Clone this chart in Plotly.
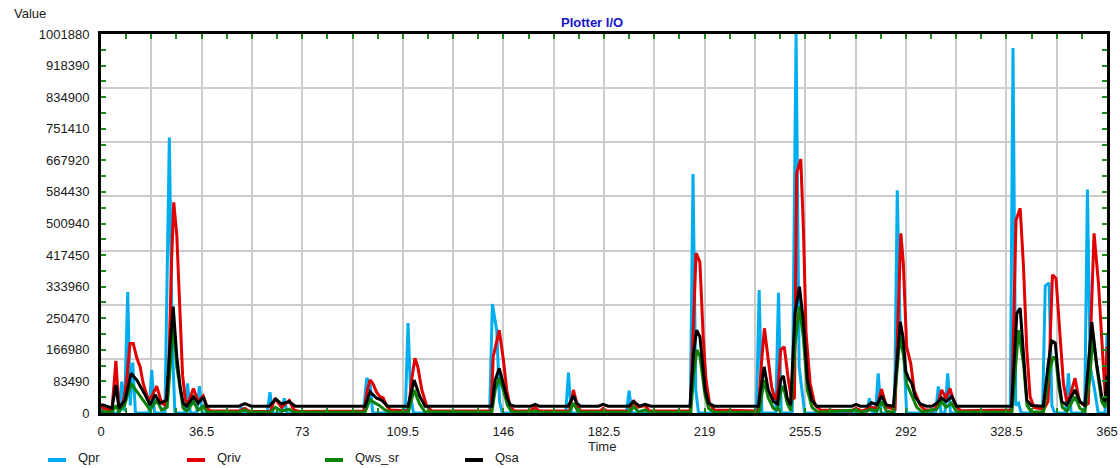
import plotly.graph_objects as go

# ---------------- data ----------------
qpr_t = [0, 1, 6.5, 7.5, 8.5, 9.7, 10.6, 11.5, 12.5, 17.4, 18.4, 19.4, 23.2, 24.8, 25.8, 26.8,
         30.4, 31.4, 32.4, 34.7, 35.7, 36.7, 50, 51, 52, 60.3, 61.3, 62.3, 65.5, 66.5, 67.5,
         95.2, 96.4, 97.6, 98.6, 110.4, 111.4, 112.4, 113.4, 141, 142, 143.6, 144.6, 145.6,
         168.6, 169.6, 170.6, 181.2, 182.2, 183.2, 190.6, 191.6, 192.6, 213.8, 214.8, 215.8, 216.8,
         237.8, 238.8, 239.8, 244.8, 245.8, 246.8, 250.8, 252.2, 253.3, 255.3,
         277.8, 278.8, 279.8, 281, 282, 283, 287.9, 288.9, 289.9, 291.3, 292.3,
         302.8, 303.8, 304.8, 306.2, 307.2, 308.2, 329.9, 330.9, 331.9, 332.9, 333.9,
         341.6, 342.6, 344, 345, 346, 350, 351, 352, 356.9, 357.9, 358.9, 360.3, 361.8,
         364.3, 365]
qpr_v = [15000, 0, 0, 83000, 5000, 320000, 20000, 133000, 0, 0, 114000, 0, 0, 728000, 200000, 0,
         0, 78000, 0, 0, 71000, 0, 0, 15000, 0, 0, 55000, 0, 0, 39000, 0,
         0, 92000, 80000, 0, 0, 238000, 40000, 0, 0, 288000, 217000, 30000, 0,
         0, 107000, 0, 0, 10000, 0, 0, 59000, 0, 0, 632000, 60000, 0,
         0, 325000, 0, 0, 318000, 0, 0, 1001880, 122000, 0,
         0, 39000, 0, 0, 105000, 0, 0, 589000, 230000, 160000, 0,
         0, 70000, 0, 0, 105000, 0, 0, 965000, 20000, 26000, 0,
         0, 336000, 344000, 20000, 0, 0, 105000, 0, 0, 591000, 122000, 70000, 0,
         0, 211000]

qriv_t = [0, 1, 3, 4, 5.4, 6.5, 7.5, 8.5, 9.5, 10.5, 11.7, 13, 14.2, 15.3, 17.2, 18.5, 20.2, 22,
          23.5, 24.6, 25.6, 26.4, 27.5, 28.6, 29.6, 30.6, 31.6, 33.5, 35.3, 37.1, 38.8, 40,
          50, 52.2, 54, 61.5, 63.1, 65.5, 68.3, 70, 72, 95.5, 96.6, 97.6, 98.5, 100, 101.2,
          102.4, 103.5, 105, 111.5, 112.7, 113.9, 115, 116.4, 118.2, 120, 141.5, 142.3, 144.5,
          146, 147.2, 148.4, 150, 155.5, 157.5, 159, 170, 171.4, 172.8, 174, 181, 182.2, 183.5,
          191.8, 193.2, 194.5, 197.4, 199, 213.8, 214.8, 215.9, 217.3, 218.5, 219.5, 220.8, 222.5,
          238.5, 239.6, 240.7, 242.1, 243.3, 244.6, 245.6, 246.6, 247.9, 249.4, 250.6, 251.6,
          252.4, 253.9, 254.9, 255.8, 257.3, 259, 261, 272, 274, 276, 279.6, 281.5, 283.2, 285,
          288.1, 290.2, 291.1, 292.3, 293.8, 295, 297.2, 299, 302, 303.5, 305, 306.6, 308, 310,
          312, 330.4, 332, 333.5, 334.7, 335.9, 337.1, 338.5, 342, 343.6, 345.2, 346.5, 348,
          349.2, 350.4, 351.6, 353.4, 355, 356.8, 358.2, 360.3, 361.9, 363.7, 364.4, 365]
qriv_v = [18000, 12000, 8000, 10000, 138000, 12000, 20000, 40000, 100000, 184000, 184000, 145000,
          122000, 78000, 34000, 45000, 71000, 26000,
          20000, 120000, 400000, 557000, 470000, 270000, 100000, 35000, 25000, 65000, 30000,
          45000, 10000, 5000,
          5000, 12000, 4000, 4000, 39000, 15000, 33000, 8000, 4000, 5000, 60000, 87000, 80000,
          55000, 43000,
          40000, 20000, 8000, 5000, 87000, 145000, 120000, 61000, 18000, 5000, 5000, 149000,
          219000,
          140000, 61000, 17000, 5000, 5000, 15000, 5000, 5000, 61000, 20000, 5000, 5000, 12000,
          5000,
          5000, 34000, 15000, 20000, 5000, 5000, 200000, 423000, 399000, 200000, 87000, 25000,
          8000,
          5000, 130000, 224000, 140000, 70000, 34000, 60000, 167000, 175000, 87000, 34000, 40000,
          633000, 671000, 476000, 211000, 78000, 21000, 8000, 5000, 12000, 5000, 15000, 12000,
          63000, 15000,
          10000, 475000, 396000, 175000, 131000, 61000, 21000, 8000, 8000, 20000, 61000, 39000,
          65000, 17000,
          6000, 8000, 510000, 541000, 387000, 167000, 43000, 15000, 10000, 30000, 365000, 356000,
          211000,
          78000, 30000, 45000, 92000, 30000, 20000, 25000, 475000, 343000, 122000, 45000, 175000]

qws_t = [0, 1, 4, 5.4, 6.5, 8.5, 10.9, 13.5, 16, 17.8, 20.2, 22, 24, 25.2, 26.3, 27.5, 28.7,
         29.8, 31.2, 33.5, 35.3, 37.1, 38.5, 50, 52.2, 54, 61.5, 63.3, 65.5, 68.3, 70, 95.8,
         97.6, 99, 101, 103, 105, 111.5, 113.6, 115.5, 117.5, 141.8, 143, 144.5, 146, 147.5,
         149, 156, 157.5, 159, 170, 171.4, 173, 174, 191.8, 193.2, 195, 197.4, 199, 214, 215,
         216.2, 217.3, 219.2, 220.5, 222.5, 238.8, 240.6, 242.1, 244, 245.4, 246.6, 247.6, 249,
         250.3, 251.8, 253.4, 254.8, 256.3, 258, 260, 274, 276, 279.6, 281.5, 283.2, 285,
         287.5, 289.9, 291.2, 292.3, 294.5, 296, 298, 303.2, 305, 306.6, 308.5, 310.5, 330.5,
         332.2, 332.9, 334.7, 336, 337.5, 342, 343.8, 345.5, 346.5, 347.5, 348.8, 350.5, 353.4,
         355.2, 357, 358.5, 360, 361.5, 363.1, 364.3, 365]
qws_v = [5000, 3000, 2000, 20000, 3000, 20000, 78000, 52000, 26000, 8000, 34000, 8000, 15000,
         130000, 237000, 122000, 61000,
         13000, 5000, 30000, 8000, 18000, 3000, 2000, 8000, 2000, 2000, 15000, 5000, 10000, 2000,
         2000,
         36000, 28000, 20000, 8000, 2000, 2000, 61000, 25000, 3000, 2000, 60000, 94000, 60000,
         20000,
         3000, 2000, 6000, 2000, 2000, 26000, 5000, 2000, 2000, 17000, 3000, 8000, 2000, 2000,
         100000,
         167000, 150000, 45000, 12000, 2000, 2000, 87000, 40000, 12000, 8000, 55000, 71000, 25000,
         6000, 180000, 281000, 200000, 60000, 15000, 2000, 8000, 2000, 10000, 5000, 30000, 5000,
         2000, 202000, 150000, 78000, 43000, 15000, 3000, 10000, 30000, 15000, 26000, 3000, 2000,
         150000, 219000, 130000, 20000, 3000, 2000, 100000, 149000, 140000, 70000, 15000, 5000,
         43000,
         12000, 5000, 80000, 202000, 110000, 30000, 15000, 53000]

qsa_t = [0, 0.7, 4, 5.4, 6.5, 8.7, 10.9, 13, 16, 17.8, 19.6, 21.4, 23.8, 25, 26.2, 27.5, 28.7,
         29.8, 31.1, 33.5, 35.3, 37.1, 38.3, 50, 52.2, 54.5, 61, 63.4, 65.5, 68.3, 70.5, 95.8,
         97.6, 100, 101.8, 104, 111.4, 113.6, 115.7, 117.6, 141.8, 143, 144.5, 146, 147.2,
         148.4, 150, 156, 157.5, 159, 169.5, 171.4, 172.6, 174, 180.5, 182.2, 184, 191.5, 193.2,
         195.5, 197.4, 199.5, 213.7, 215, 216.1, 217.3, 219.2, 220.4, 222.5, 238.5, 240.6,
         242.1, 244, 245.4, 246.6, 247.6, 249, 250.2, 251.8, 253.4, 254.8, 256.3, 257.9, 259.7,
         272.5, 274, 275.5, 278, 279.6, 281.5, 283.2, 285, 287.5, 290, 291, 292, 293, 294.2,
         295.4, 297.2, 299.5, 301.5, 303.2, 305, 306.6, 308.7, 310.5, 330.4, 332.3, 333.5,
         334.7, 335.9, 337.5, 341.9, 343.7, 344.9, 346.2, 347.4, 348.6, 350.4, 353.4, 355.2,
         357, 359.5, 361.2, 363.1, 364.3, 365]
qsa_v = [22000, 21000, 13000, 74000, 13000, 34000, 105000, 87000, 48000, 21000, 48000, 26000,
         34000, 175000, 281000, 149000, 70000,
         26000, 18000, 43000, 26000, 42000, 18000, 18000, 25000, 18000, 18000, 37000, 24000,
         30000, 18000, 18000,
         56000, 39000, 34000, 18000, 18000, 87000, 43000, 18000, 18000, 87000, 118000, 78000,
         43000,
         22000, 18000, 18000, 23000, 18000, 18000, 45000, 26000, 18000, 18000, 23000, 18000,
         18000, 30000,
         18000, 23000, 18000, 18000, 158000, 219000, 202000, 61000, 26000, 18000, 18000, 122000,
         61000, 30000, 24000, 87000, 98000, 39000, 21000, 264000, 334000, 246000, 87000, 34000,
         18000,
         18000, 23000, 18000, 18000, 27000, 22000, 45000, 21000, 18000, 241000, 200000, 110000,
         92000, 78000,
         43000, 24000, 18000, 18000, 26000, 40000, 30000, 43000, 18000, 18000, 264000, 277000,
         167000, 34000, 20000, 18000, 131000, 191000, 186000, 96000, 30000, 21000, 61000, 30000,
         21000, 240000, 131000, 43000, 30000, 100000]

series_names = ["Qpr", "Qriv", "Qws_sr", "Qsa"]
series_colors = ["#00AEEF", "#E00000", "#0A820A", "#000000"]

x_tick_labels = ["0", "36.5", "73", "109.5", "146", "182.5", "219", "255.5", "292", "328.5", "365"]
y_tick_labels = ["0", "83490", "166980", "250470", "333960", "417450", "500940", "584430",
                 "667920", "751410", "834900", "918390", "1001880"]

# ---------------- geometry ----------------
W, H = 1120, 468
ML, MR, MT, MB = 101, 13, 34, 55
PW, PH = W - ML - MR, H - MT - MB


def px_to_paper_x(px):
    return (px - ML) / PW


def py_to_paper_y(py):
    return (H - MB - py) / PH


# ---------------- axis tick construction ----------------
x_major = [float(s) for s in x_tick_labels]
xt_vals, xt_text = [], []
for i in range(len(x_major) - 1):
    a, b = x_major[i], x_major[i + 1]
    for j in range(4):
        xt_vals.append(a + (b - a) * j / 4)
        xt_text.append(x_tick_labels[i] if j == 0 else "")
xt_vals.append(x_major[-1])
xt_text.append(x_tick_labels[-1])
x_grid = [v for k, v in enumerate(xt_vals) if k % 2 == 0 and 0 < v < x_major[-1]]

y_major = [float(s) for s in y_tick_labels]
yt_vals, yt_text = [], []
for i in range(len(y_major) - 1):
    a, b = y_major[i], y_major[i + 1]
    yt_vals += [a, (a + b) / 2]
    yt_text += [y_tick_labels[i], ""]
yt_vals.append(y_major[-1])
yt_text.append(y_tick_labels[-1])
y_max = y_major[-1]
y_grid = [y_max * k / 7 for k in range(1, 7)]

# ---------------- figure ----------------
fig = go.Figure()
for name, col, t, v in zip(series_names, series_colors,
                           [qpr_t, qriv_t, qws_t, qsa_t], [qpr_v, qriv_v, qws_v, qsa_v]):
    fig.add_trace(go.Scatter(x=t, y=v, mode="lines", name=name,
                             line=dict(color=col, width=3)))

FONT = "Liberation Sans, Arial, sans-serif"
TXT = "#1a1a1a"
axis_common = dict(showline=True, linecolor="black", linewidth=3, mirror="ticks",
                   ticks="inside", ticklen=5, tickwidth=1.5, tickcolor="#1a8c1a",
                   showgrid=False, zeroline=False, tickmode="array", automargin=False,
                   tickfont=dict(family=FONT, size=13, color=TXT))

# legend drawn below the plot: sample line + label for each series
legend_line_px = [48, 187, 325, 465]
legend_line_y = py_to_paper_y(460)
legend_text_y = py_to_paper_y(457)
shapes, annotations = [], []
for name, col, lx in zip(series_names, series_colors, legend_line_px):
    shapes.append(dict(type="line", xref="paper", yref="paper",
                       x0=px_to_paper_x(lx), x1=px_to_paper_x(lx + 18),
                       y0=legend_line_y, y1=legend_line_y, line=dict(color=col, width=4)))
    annotations.append(dict(text=name, xref="paper", yref="paper",
                            x=px_to_paper_x(lx + 28), y=legend_text_y,
                            xanchor="left", yanchor="middle", showarrow=False,
                            font=dict(family=FONT, size=13, color=TXT)))

annotations += [
    dict(text="<b>Plotter I/O</b>", xref="paper", yref="paper",
         x=px_to_paper_x(592), y=py_to_paper_y(22),
         xanchor="center", yanchor="middle", showarrow=False,
         font=dict(family=FONT, size=13, color="#1414C8")),
    dict(text="Value", xref="paper", yref="paper",
         x=px_to_paper_x(12), y=py_to_paper_y(14),
         xanchor="left", yanchor="middle", showarrow=False,
         font=dict(family=FONT, size=13, color=TXT)),
    dict(text="Time", xref="paper", yref="paper",
         x=px_to_paper_x(602), y=py_to_paper_y(446),
         xanchor="center", yanchor="middle", showarrow=False,
         font=dict(family=FONT, size=13, color=TXT)),
]

fig.update_layout(
    width=W, height=H,
    margin=dict(l=ML, r=MR, t=MT, b=MB, autoexpand=False),
    paper_bgcolor="white", plot_bgcolor="white",
    font=dict(family=FONT, size=13, color=TXT),
    xaxis=dict(range=[0, 365], tickvals=xt_vals, ticktext=xt_text, ticklabelstandoff=4,
               minor=dict(tickmode="array", tickvals=x_grid, showgrid=True,
                          gridcolor="#cccccc", gridwidth=2, ticks=""),
               **axis_common),
    yaxis=dict(range=[0, y_max], tickvals=yt_vals, ticktext=yt_text, ticklabelstandoff=6,
               minor=dict(tickmode="array", tickvals=y_grid, showgrid=True,
                          gridcolor="#cccccc", gridwidth=2, ticks=""),
               **axis_common),
    showlegend=False,
    shapes=shapes,
    annotations=annotations,
)

fig.write_html("out.html")
